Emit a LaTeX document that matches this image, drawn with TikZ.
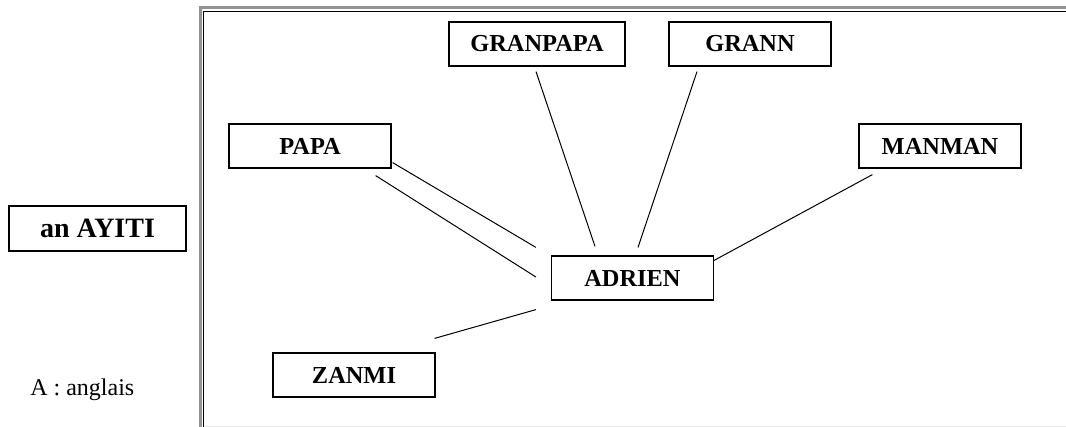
\documentclass[tikz,border=0pt]{standalone}
\usepackage{fontspec}
\setmainfont{Liberation Serif}
\usepackage{tikz}
\tikzset{
	bx/.style={draw, line width=0.9pt, inner sep=0pt, minimum width=121.5pt, minimum height=33pt, font=\fontsize{18.3}{20}\selectfont\bfseries},
	ln/.style={line width=0.75pt},
	fo/.style={gray!85, line width=2pt},
	fi/.style={black, line width=0.8pt},
}
\begin{document}
\begin{tikzpicture}[x=0.75pt, y=-0.75pt]
	\useasboundingbox (0,0) rectangle (1066,427);

	\draw [fo] (1070,7.5) -- (200.2,7.5) -- (200.2,430);
	\draw [fi] (1070,11.7) -- (203.9,11.7) -- (203.9,430);
	\draw [gray!20, line width=0.75pt] (204,426) -- (1070,426);

	\node [bx] (papa) at (310,146) {PAPA};
	\node [bx, minimum width=132pt] (granpapa) at (537,44) {GRANPAPA};
	\node [bx] (grann) at (750,44) {GRANN};
	\node [bx] (manman) at (940,146) {MANMAN};
	\node [bx] (adrien) at (632.5,278) {ADRIEN};
	\node [bx] (zanmi) at (354,375) {ZANMI};
	\node [bx, minimum width=132.75pt, minimum height=33.75pt, font=\fontsize{21}{24}\selectfont\bfseries] (ayiti) at (97.5,228.5) {an AYITI};
	\node [font=\fontsize{18}{20}\selectfont, inner sep=0pt, anchor=west] (legende) at (30,390) {A : anglais};

	\draw [ln] ([shift={(1,-6)}]papa.south east) -- ([shift={(-15,-8)}]adrien.north west);
	\draw [ln] ([shift={(-16,7)}]papa.south east) -- ([shift={(-15,-1)}]adrien.west);
	\draw [ln] ([shift={(-1,5)}]granpapa.south) -- ([shift={(-37.5,-9)}]adrien.north);
	\draw [ln] ([shift={(-53,5)}]grann.south) -- ([shift={(5.5,-8)}]adrien.north);
	\draw [ln] ([shift={(14,6)}]manman.south west) -- ([shift={(0,5)}]adrien.north east);
	\draw [ln] ([shift={(-1,-14)}]zanmi.north east) -- ([shift={(-15,9)}]adrien.south west);
\end{tikzpicture}
\end{document}
